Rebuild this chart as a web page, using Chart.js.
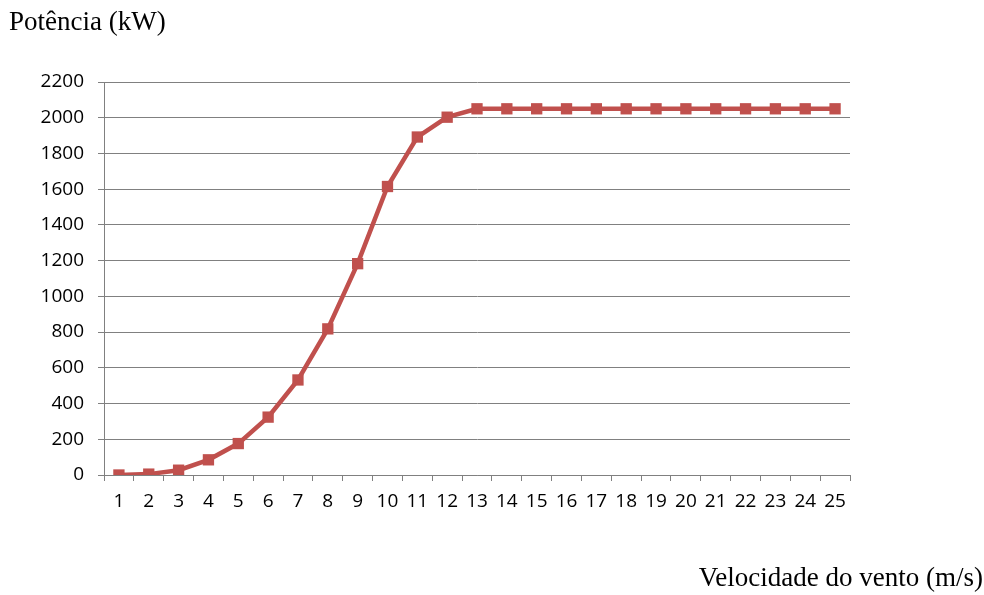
<!DOCTYPE html>
<html>
<head>
<meta charset="utf-8">
<script src="https://cdn.jsdelivr.net/npm/chart.js@4/dist/chart.umd.min.js"></script>
<style>
  html, body { margin: 0; padding: 0; background: #fff; }
  #wrap { position: relative; width: 984px; height: 595px; }
  .axis-title { position: absolute; font-family: "Liberation Serif", "Times New Roman", serif; font-size: 27px; color: #000; white-space: nowrap; line-height: 1; }
  #yTitle { left: 9px; top: 8px; }
  #xTitle { right: 1px; top: 564px; }
</style>
</head>
<body>
<div id="wrap">
  <canvas id="powerChart" width="984" height="595"></canvas>
  <div class="axis-title" id="yTitle">Potência (kW)</div>
  <div class="axis-title" id="xTitle">Velocidade do vento (m/s)</div>
</div>
<script>
"use strict";

// Wind speed (m/s) and turbine power output (kW)
var windSpeeds = [1, 2, 3, 4, 5, 6, 7, 8, 9, 10, 11, 12, 13, 14, 15, 16, 17, 18, 19, 20, 21, 22, 23, 24, 25];
var powerValues = [0, 5, 27, 85, 176, 324, 532, 818, 1183, 1615, 1892, 2003, 2050, 2050, 2050, 2050, 2050, 2050, 2050, 2050, 2050, 2050, 2050, 2050, 2050];
var yMin = 0;
var yMax = 2200;
var yStep = 200;

var lineColour = "#C0504D";
var gridColour = "#808080";
var tickFont = { "family": "Open Sans", "size": 19 };

function drawPowerCurve() {
    var ctx = document.getElementById('powerChart');
    new Chart(ctx, {
        "type": "line",
        "data": {
            "labels": windSpeeds,
            "datasets": [{
                "label": "Potência (kW)",
                "data": powerValues,
                "borderColor": lineColour,
                "backgroundColor": lineColour,
                "borderWidth": 4.5,
                "pointStyle": "rect",
                "pointRadius": 8,
                "pointBorderWidth": 0,
                "pointBackgroundColor": lineColour,
                "tension": 0,
                "fill": false
            }]
        },
        "options": {
            "responsive": false,
            "animation": false,
            "layout": { "padding": { "left": 0, "top": 82, "right": 134, "bottom": 0 } },
            "plugins": {
                "legend": { "display": false },
                "tooltip": { "enabled": false }
            },
            "scales": {
                "x": {
                    "offset": true,
                    "grid": {
                        "offset": true,
                        "drawOnChartArea": false,
                        "drawTicks": true,
                        "tickLength": 6,
                        "color": gridColour
                    },
                    "border": { "color": gridColour, "width": 1 },
                    "ticks": {
                        "color": "#000",
                        "font": tickFont,
                        "padding": 9,
                        "maxRotation": 0,
                        "autoSkip": false
                    },
                    "afterFit": function(scale) { scale.height = 120; }
                },
                "y": {
                    "min": yMin,
                    "max": yMax,
                    "grid": {
                        "color": gridColour,
                        "lineWidth": 1,
                        "tickLength": 6
                    },
                    "border": { "color": gridColour, "width": 1 },
                    "ticks": {
                        "stepSize": yStep,
                        "color": "#000",
                        "font": tickFont,
                        "padding": 14,
                        "callback": function(value) { return String(value); }
                    },
                    "afterFit": function(scale) { scale.width = 104; }
                }
            }
        }
    });
}

window.onload = drawPowerCurve;
</script>
</body>
</html>
